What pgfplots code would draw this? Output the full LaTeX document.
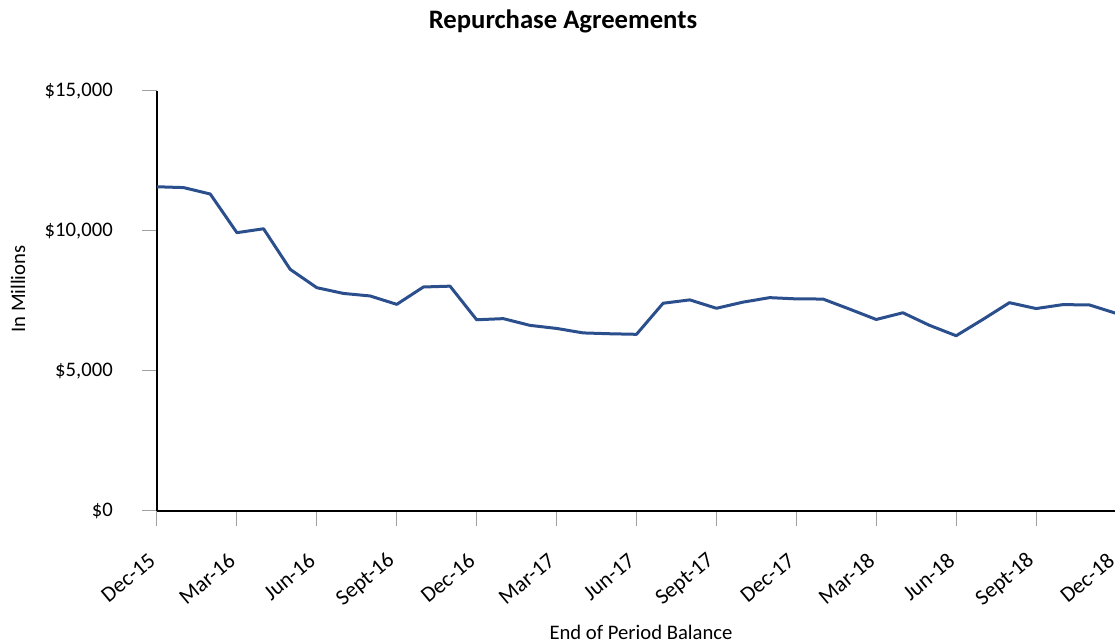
\documentclass[border=0pt]{standalone}
\usepackage{fontspec}
\setmainfont{Carlito}
\usepackage{pgfplots}
\usepackage{pgfplotstable}
\pgfplotsset{compat=1.18}
\definecolor{linecol}{RGB}{43,79,140}
\definecolor{tickgray}{RGB}{160,160,160}
\pgfplotstableread{
m v
0 11580
1 11550
2 11320
3 9940
4 10080
5 8630
6 7975
7 7770
8 7680
9 7380
10 8000
11 8030
12 6830
13 6870
14 6630
15 6520
16 6360
17 6330
18 6310
19 7420
20 7540
21 7240
22 7460
23 7620
24 7575
25 7570
26 7210
27 6840
28 7080
29 6630
30 6260
31 6840
32 7440
33 7230
34 7370
35 7360
36 7060
}\datatable
\begin{document}
\begin{tikzpicture}
\useasboundingbox (-117.75pt,-98.25pt) rectangle (718.5pt,383.25pt);
\begin{axis}[
  at={(0,0)}, anchor=south west,
  scale only axis, width=719.25pt, height=315pt,
  xmin=0, xmax=36, ymin=0, ymax=15000,
  axis x line=bottom, axis y line=left,
  axis line style={black, line width=2pt, -},
  tick align=outside, major tick length=11pt,
  tick style={tickgray, line width=0.75pt},
  scaled y ticks=false,
  xtick={0,3,...,36},
  xticklabels={Dec-15,Mar-16,Jun-16,Sept-16,Dec-16,Mar-17,Jun-17,Sept-17,Dec-17,Mar-18,Jun-18,Sept-18,Dec-18},
  ytick={0,5000,10000,15000},
  yticklabels={{\$0},{\$5,000},{\$10,000},{\$15,000}},
  /pgf/number format/assume math mode=true,
  xticklabel style={font=\fontsize{16.5}{19}\selectfont, xshift=-3.5pt, yshift=-24pt, rotate=40, anchor=east, inner sep=0pt},
  yticklabel style={font=\fontsize{15.5}{18}\selectfont, inner sep=0pt, xshift=-22pt},
  clip=false,
]
\addplot[linecol, line width=2.25pt, line join=round] table[x=m, y=v] {\datatable};
\end{axis}
\node[font=\bfseries\fontsize{20}{24}\selectfont] at (304.5pt,367.5pt) {Repurchase Agreements};
\node[font=\fontsize{15.5}{18}\selectfont, rotate=90] at (-104.25pt,166.5pt) {In Millions};
\node[font=\fontsize{15.5}{18}\selectfont] at (363pt,-90.75pt) {End of Period Balance};
\end{tikzpicture}
\end{document}
